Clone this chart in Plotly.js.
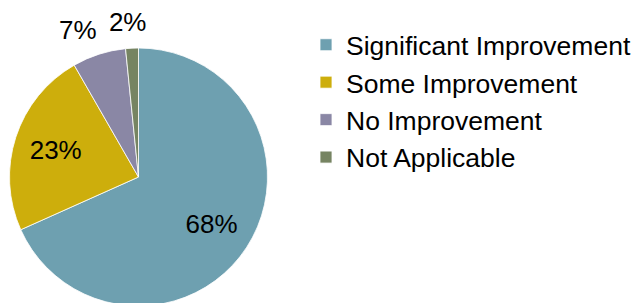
<!DOCTYPE html>
<html><head><meta charset="utf-8">
<script src="https://cdn.plot.ly/plotly-3.0.1.min.js"></script>
<style>html,body{margin:0;padding:0;overflow:hidden;background:#fff}</style>
</head><body><div id="chart"></div>
<script>
const categories = ["Significant Improvement", "Some Improvement", "No Improvement", "Not Applicable"];
const values = [68.3, 23.4, 6.7, 1.6];
const colors = ["#6ea0b0", "#cdae0c", "#8a87a5", "#768462"];

const W = 636, H = 320;
const FONT = "Liberation Sans, Arial, sans-serif";
const clear = categories.map(() => "rgba(0,0,0,0)");
const cyTop = 177;                       // pie centre, px from top
function dom(cx, r) {
  const cy = H - cyTop;
  return {x: [(cx - r) / W, (cx + r) / W], y: [(cy - r) / H, (cy + r) / H]};
}
const base = {
  type: "pie", labels: categories, values: values, sort: false,
  direction: "clockwise", rotation: 0,
  texttemplate: "%{percent:.0%}",
  insidetextorientation: "horizontal",
  textfont: {family: FONT, size: 26, color: "#000000"},
  hoverinfo: "skip"
};
const traces = [
  // visible pie
  Object.assign({}, base, {
    marker: {colors: colors, line: {color: "#ffffff", width: 0.8}},
    textposition: "none", domain: dom(138.5, 129), showlegend: true
  }),
  // label layer for the large slices
  Object.assign({}, base, {
    marker: {colors: clear, line: {width: 0}}, hole: 0.35,
    textposition: ["inside", "inside", "none", "none"],
    domain: dom(138.5, 129), showlegend: false
  }),
  // outside label: No Improvement
  Object.assign({}, base, {
    marker: {colors: clear, line: {width: 0}},
    textposition: ["none", "none", "outside", "none"],
    domain: dom(147, 140), showlegend: false
  }),
  // outside label: Not Applicable
  Object.assign({}, base, {
    marker: {colors: clear, line: {width: 0}},
    textposition: ["none", "none", "none", "outside"],
    domain: dom(161, 140), showlegend: false
  })
];
Plotly.newPlot("chart", traces, {
  width: W, height: H,
  margin: {l: 0, r: 0, t: 0, b: 0},
  paper_bgcolor: "#ffffff",
  showlegend: true,
  legend: {
    x: 1, xanchor: "right", y: 1 - 21 / H, yanchor: "top",
    font: {family: FONT, size: 26.5, color: "#000000"},
    tracegroupgap: 0, itemwidth: 30
  },
  font: {family: FONT}
}, {staticPlot: true, displayModeBar: false});
</script></body></html>
